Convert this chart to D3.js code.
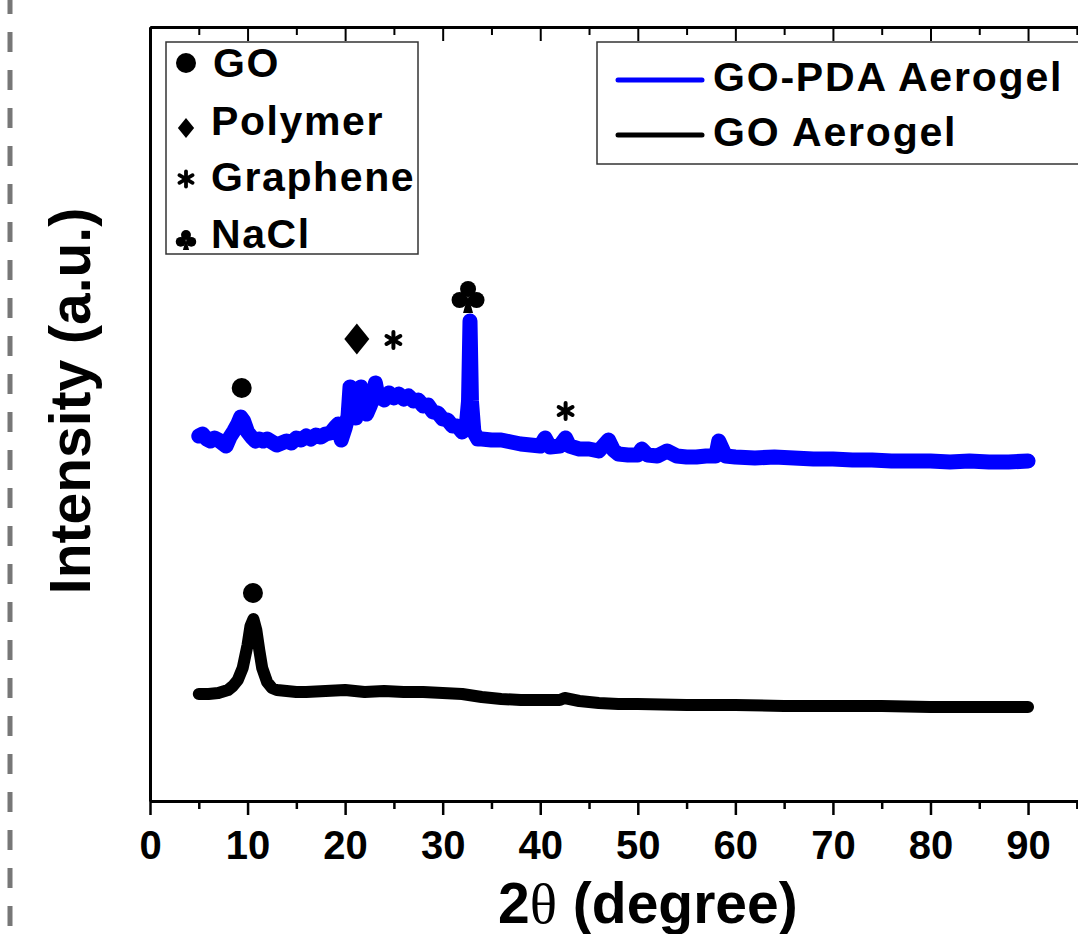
<!DOCTYPE html>
<html>
<head>
<meta charset="utf-8">
<script src="https://cdn.jsdelivr.net/npm/d3@7"></script>
<style>
  body { margin: 0; background: #fff; }
  text { font-family: "Liberation Sans", Arial, sans-serif; font-weight: bold; fill: #000; }
</style>
</head>
<body>
<div id="vis"></div>
<script>
//data----
const pdaTheta = [5.0, 5.4, 5.8, 6.2, 6.6, 7.0, 7.4, 7.8, 8.2, 8.6, 9.0, 9.3, 9.6, 10.0, 10.4, 10.8, 11.2, 11.6, 12.0, 12.5,
  13.0, 13.5, 14.0, 14.5, 15.0, 15.5, 16.0, 16.5, 17.0, 17.5, 18.0, 18.5, 19.0, 19.3, 19.6, 20.0,
  20.3, 20.5, 20.8, 21.1, 21.4, 21.6, 21.9, 22.2, 22.6, 22.9, 23.1, 23.4, 23.7, 24.0, 24.5, 25.0, 25.5, 26.0, 26.5, 27.0, 27.5,
  28.0, 28.5, 29.0, 29.5, 30.0, 30.5, 31.0, 31.5, 32.0, 32.4, 32.65, 32.8, 32.95, 33.2, 33.6,
  34, 35, 36, 37, 38, 39, 40, 40.5, 41, 42, 42.6, 43, 44, 45, 46, 47, 47.5, 48, 49, 50, 50.4, 51, 52, 53, 54, 55,
  56, 57, 58, 58.3, 59, 60, 62, 64, 66, 68, 70, 72, 74, 76, 78, 80, 82, 84, 86, 88, 90]
const pdaIntensity = [365, 367, 362, 360, 363, 361, 358, 355, 364, 370, 377, 384, 380, 369, 364, 360, 362, 360, 362, 359,
  356, 358, 360, 358, 363, 361, 365, 362, 366, 364, 367, 368, 374, 377, 361, 373,
  385, 414, 398, 383, 395, 414, 396, 387, 396, 404, 418, 403, 406, 401, 408, 403, 407, 402, 405, 400, 401,
  395, 396, 389, 388, 382, 381, 375, 375, 369, 373, 400, 480, 400, 369, 362,
  362, 361, 361, 359, 357, 356, 355, 363, 354, 355, 363, 355, 352, 352, 350, 361, 351, 347, 346, 346, 352, 346, 345, 350, 345, 344,
  344, 345, 345, 360, 345, 344, 343, 344, 343, 342, 342, 341, 341, 340, 340, 340, 339, 340, 339, 339, 340]

const goTheta = [5, 6, 7, 8, 8.5, 9, 9.5, 10, 10.3, 10.6, 10.9, 11.2, 11.5, 12, 12.5, 13, 14, 15, 16, 18, 20, 22, 24, 26,
  28, 30, 32, 34, 36, 38, 40, 42, 42.5, 44, 46, 48, 50, 55, 60, 65, 70, 75, 80, 85, 90]
const goIntensity = [107, 107, 108, 111, 115, 121, 133, 156, 175, 182, 171, 151, 133, 119, 113, 111, 110, 109, 109, 110, 111, 109, 110, 109,
  109, 108, 107, 104, 102, 101, 101, 101, 103, 100, 98, 97, 97, 96, 96, 95, 95, 95, 94, 94, 94]

const xTicks = [0, 10, 20, 30, 40, 50, 60, 70, 80, 90]
const xMinorTicks = [5, 15, 25, 35, 45, 55, 65, 75, 85, 95]

const seriesNames = ["GO-PDA Aerogel", "GO Aerogel"]
const seriesColors = ["#0000ff", "#000000"]

const phaseNames = ["GO", "Polymer", "Graphene", "NaCl"]
const phaseSymbols = ["circle", "diamond", "asterisk", "club"]

// peak marks: symbol, 2theta, intensity
const peakSymbols = ["circle", "diamond", "asterisk", "club", "asterisk", "circle"]
const peakTheta = [9.4, 21.2, 24.95, 32.6, 42.6, 10.55]
const peakIntensity = [413, 462, 461, 504, 390, 208]

//dimensions----
let dimensions = {
  width: 1078,
  height: 934,
  margins: { left: 150, top: 27, bottom: 133 },
}
dimensions.boundedheight = dimensions.height - dimensions.margins.top - dimensions.margins.bottom
dimensions.plotright = 150 + 975.6  // axis runs to 100, cut by the page edge

const wrapper = d3.select("#vis").append("svg")
  .attr("width", dimensions.width)
  .attr("height", dimensions.height)

//scales----
const xScale = d3.scaleLinear().domain([0, 100]).range([dimensions.margins.left, dimensions.plotright])
const yScale = d3.scaleLinear().domain([0, 774]).range([dimensions.margins.top + dimensions.boundedheight, dimensions.margins.top])
const yBottom = dimensions.margins.top + dimensions.boundedheight

// dashed page edge on the left
wrapper.append("line")
  .attr("x1", 10).attr("x2", 10).attr("y1", -6).attr("y2", dimensions.height)
  .attr("stroke", "#777").attr("stroke-width", 5)
  .attr("stroke-dasharray", "20 18")

//axes----
function styleAxis(g, w) {
  g.select(".domain").attr("stroke", "#000").attr("stroke-width", 3)
  g.selectAll(".tick line").attr("stroke", "#000").attr("stroke-width", w)
}

const xAxis = wrapper.append("g")
  .attr("transform", `translate(0,${yBottom})`)
  .call(d3.axisBottom(xScale).tickValues(xTicks).tickSize(14).tickSizeOuter(0))
  .call(g => styleAxis(g, 2.5))
xAxis.selectAll(".tick text")
  .attr("y", 30).attr("dy", "0.71em")
  .style("font-size", "40px")
  .style("font-family", "Liberation Sans, Arial, sans-serif")
  .style("font-weight", "bold")
  .attr("fill", "#000")

wrapper.append("g")
  .attr("transform", `translate(0,${yBottom})`)
  .call(d3.axisBottom(xScale).tickValues(xMinorTicks).tickSize(8).tickFormat("").tickSizeOuter(0))
  .call(g => styleAxis(g, 2.5))

// top axis, ticks pointing inward
wrapper.append("g")
  .attr("transform", `translate(0,${dimensions.margins.top})`)
  .call(d3.axisBottom(xScale).tickValues(xTicks).tickSize(14).tickFormat("").tickSizeOuter(0))
  .call(g => styleAxis(g, 2))
wrapper.append("g")
  .attr("transform", `translate(0,${dimensions.margins.top})`)
  .call(d3.axisBottom(xScale).tickValues(xMinorTicks).tickSize(8).tickFormat("").tickSizeOuter(0))
  .call(g => styleAxis(g, 2))

wrapper.append("g")
  .attr("transform", `translate(${dimensions.margins.left},0)`)
  .call(d3.axisLeft(yScale).tickValues([]).tickSizeOuter(0))
  .call(g => styleAxis(g, 2))

// axis titles
const xTitle = wrapper.append("text")
  .attr("x", 498).attr("y", 923)
  .style("font-size", "57px")
xTitle.append("tspan").text("2")
xTitle.append("tspan").text("\u03b8")
  .style("font-family", "Liberation Serif, Times New Roman, serif")
  .style("font-weight", "normal")
xTitle.append("tspan").text(" (degree)")

wrapper.append("text")
  .attr("transform", "translate(90,401) rotate(-90)")
  .attr("text-anchor", "middle")
  .style("font-size", "57px")
  .text("Intensity (a.u.)")

//lines----
const lineGen = d3.line()
  .x(d => xScale(d[0]))
  .y(d => yScale(d[1]))

const pdaData = pdaTheta.map((t, i) => [t, pdaIntensity[i]])
const goData = goTheta.map((t, i) => [t, goIntensity[i]])

wrapper.append("path")
  .datum(goData)
  .attr("d", lineGen)
  .attr("fill", "none")
  .attr("stroke", seriesColors[1])
  .attr("stroke-width", 12)
  .attr("stroke-linejoin", "round")
  .attr("stroke-linecap", "round")

wrapper.append("path")
  .datum(pdaData)
  .attr("d", lineGen)
  .attr("fill", "none")
  .attr("stroke", seriesColors[0])
  .attr("stroke-width", 15)
  .attr("stroke-linejoin", "round")
  .attr("stroke-linecap", "round")

//symbols----
function drawSymbol(g, type, s) {
  if (type === "circle") {
    g.append("circle").attr("r", 10 * s).attr("fill", "#000")
  } else if (type === "diamond") {
    g.append("path")
      .attr("d", `M0,${-15.5 * s}L${12.5 * s},0L0,${15.5 * s}L${-12.5 * s},0Z`)
      .attr("fill", "#000")
  } else if (type === "asterisk") {
    const r = 8 * s
    for (const a of [90, 30, -30]) {
      const rad = a * Math.PI / 180
      g.append("line")
        .attr("x1", -r * Math.cos(rad)).attr("y1", -r * Math.sin(rad))
        .attr("x2", r * Math.cos(rad)).attr("y2", r * Math.sin(rad))
        .attr("stroke", "#000").attr("stroke-width", 4 * s).attr("stroke-linecap", "round")
    }
  } else if (type === "club") {
    g.append("circle").attr("cx", 0).attr("cy", -8 * s).attr("r", 8 * s).attr("fill", "#000")
    g.append("circle").attr("cx", -8.5 * s).attr("cy", 3 * s).attr("r", 8 * s).attr("fill", "#000")
    g.append("circle").attr("cx", 8.5 * s).attr("cy", 3 * s).attr("r", 8 * s).attr("fill", "#000")
    g.append("path")
      .attr("d", `M0,${-2 * s}L${5 * s},${16 * s}L${-5 * s},${16 * s}Z`)
      .attr("fill", "#000")
  }
}

peakSymbols.forEach((type, i) => {
  const g = wrapper.append("g")
    .attr("transform", `translate(${xScale(peakTheta[i])},${yScale(peakIntensity[i])})`)
  drawSymbol(g, type, 1)
})

//legends----
const phaseLegend = wrapper.append("g")
phaseLegend.append("rect")
  .attr("x", 166).attr("y", 42).attr("width", 252).attr("height", 212)
  .attr("fill", "#fff").attr("stroke", "#333").attr("stroke-width", 1.5)
const legendSymbolScale = [1, 0.65, 0.95, 0.62]
const legendRowY = [63, 128, 179, 240]
const legendTextY = [77, 135, 191, 248]
phaseNames.forEach((name, i) => {
  const g = phaseLegend.append("g").attr("transform", `translate(186,${legendRowY[i]})`)
  drawSymbol(g, phaseSymbols[i], legendSymbolScale[i])
  phaseLegend.append("text")
    .attr("x", i === 0 ? 213 : 211).attr("y", legendTextY[i])
    .style("font-size", "41px")
    .style("letter-spacing", "1.6px")
    .text(name)
})

const seriesLegend = wrapper.append("g")
seriesLegend.append("rect")
  .attr("x", 597).attr("y", 42).attr("width", 520).attr("height", 122)
  .attr("fill", "#fff").attr("stroke", "#333").attr("stroke-width", 1.5)
seriesNames.forEach((name, i) => {
  const y = 80 + i * 55
  seriesLegend.append("line")
    .attr("x1", 618).attr("x2", 702).attr("y1", y).attr("y2", y)
    .attr("stroke", seriesColors[i]).attr("stroke-width", 5).attr("stroke-linecap", "round")
  seriesLegend.append("text")
    .attr("x", 713).attr("y", 91 + i * 55)
    .style("font-size", "41px")
    .style("letter-spacing", "1.8px")
    .text(name)
})
</script>
</body>
</html>
